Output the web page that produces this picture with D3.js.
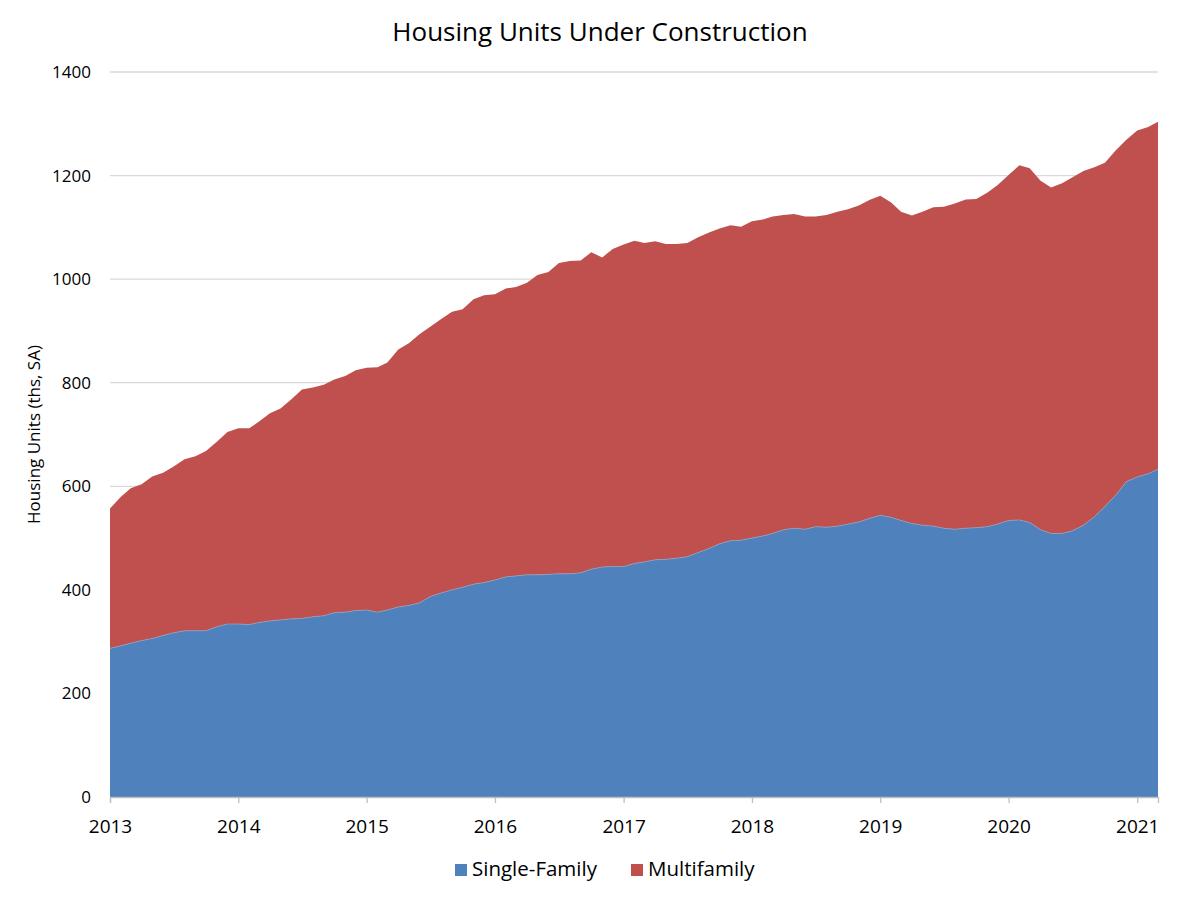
<!DOCTYPE html>
<html>
<head>
<meta charset="utf-8">
<script src="https://cdn.jsdelivr.net/npm/d3@7"></script>
<style>
    body { margin: 0; background: #fff; }
    text { font-family: 'Open Sans', 'Noto Sans', sans-serif; fill: #000; }
</style>
</head>
<body>
<svg id="chart" width="1200" height="900"></svg>
<script>
//----------DATA----------

var startMonth = '2013-01';
var seriesNames = ['Single-Family', 'Multifamily'];
var seriesColors = ['#4f81bd', '#c0504d'];
var yTicks = [0, 200, 400, 600, 800, 1000, 1200, 1400];
var xTickYears = ['2013', '2014', '2015', '2016', '2017', '2018', '2019', '2020', '2021'];

// thousands of units, monthly from Jan 2013 to Mar 2021
var singleFamily = [
    287, 292, 297, 302, 306, 312, 317, 321, 321, 321, 329, 334,
    334, 333, 337, 340, 342, 344, 345, 348, 350, 356, 357, 360,
    361, 357, 361, 367, 370, 375, 387, 394, 400, 405, 411, 414,
    419, 425, 427, 429, 429, 430, 431, 431, 433, 440, 444, 445,
    445, 451, 454, 458, 459, 461, 464, 472, 480, 489, 495, 496,
    500, 504, 509, 516, 519, 517, 522, 521, 523, 527, 531, 538,
    544, 540, 534, 528, 525, 523, 519, 517, 519, 520, 522, 527,
    534, 535, 530, 516, 509, 509, 514, 525, 541, 561, 583, 609,
    618, 624, 633
];

var multifamily = [
    270, 288, 299, 302, 313, 314, 321, 331, 337, 347, 357, 371,
    378, 379, 388, 401, 408, 424, 442, 443, 446, 450, 456, 464,
    468, 473, 478, 497, 506, 519, 521, 529, 537, 537, 550, 555,
    552, 557, 558, 564, 579, 584, 600, 604, 603, 612, 598, 613,
    622, 623, 616, 615, 609, 607, 606, 609, 610, 609, 609, 605,
    612, 611, 612, 608, 607, 604, 599, 603, 607, 608, 611, 615,
    617, 608, 596, 595, 605, 616, 621, 629, 635, 635, 645, 655,
    667, 685, 684, 674, 668, 676, 683, 684, 675, 664, 666, 660,
    669, 670, 671
];

//----------SETUP----------

var margin = {left: 110, right: 42, top: 72, bottom: 103};
var width = 1200, height = 900;

var svg = d3.select('#chart');

var parseMonth = d3.timeParse('%Y-%m');
var firstDate = parseMonth(startMonth);

var rows = singleFamily.map(function(v, i) {
    return {
        date: d3.timeMonth.offset(firstDate, i),
        'Single-Family': v,
        'Multifamily': multifamily[i]
    };
});

var x = d3.scaleTime()
    .domain(d3.extent(rows, function(d) { return d.date; }))
    .range([margin.left, width - margin.right]);

var y = d3.scaleLinear()
    .domain([0, 1400])
    .range([height - margin.bottom, margin.top]);

var stack = d3.stack().keys(seriesNames);
var layers = stack(rows);

//----------GRID----------

svg.append('g')
    .attr('class', 'grid')
    .selectAll('line')
    .data(yTicks.slice(1))
    .enter()
    .append('line')
    .attr('x1', margin.left)
    .attr('x2', width - margin.right)
    .attr('y1', function(d) { return y(d); })
    .attr('y2', function(d) { return y(d); })
    .attr('stroke', '#d9d9d9')
    .attr('stroke-width', 1.3);

//----------AREAS----------

var area = d3.area()
    .x(function(d) { return x(d.data.date); })
    .y0(function(d) { return y(d[0]); })
    .y1(function(d) { return y(d[1]); });

svg.append('g')
    .attr('class', 'areas')
    .selectAll('path')
    .data(layers)
    .enter()
    .append('path')
    .attr('d', area)
    .attr('fill', function(d, i) { return seriesColors[i]; });

// faint edge where the two layers meet
svg.append('path')
    .datum(layers[0])
    .attr('d', d3.line()
        .x(function(d) { return x(d.data.date); })
        .y(function(d) { return y(d[1]); }))
    .attr('fill', 'none')
    .attr('stroke', '#8c9fc0')
    .attr('stroke-width', 0.8);

//----------AXES----------

var xAxis = d3.axisBottom(x)
    .tickValues(xTickYears.map(function(s) { return d3.timeParse('%Y')(s); }))
    .tickFormat(d3.timeFormat('%Y'))
    .tickSize(6)
    .tickPadding(17);

var gx = svg.append('g')
    .attr('transform', 'translate(0,' + y(0) + ')')
    .call(xAxis);
gx.select('.domain').attr('stroke', '#bfbfbf').attr('stroke-width', 1.3);
gx.selectAll('.tick line').attr('stroke', '#bfbfbf').attr('stroke-width', 1.3);
gx.selectAll('.tick text')
    .attr('font-size', 19)
    .attr('font-family', "'Open Sans', sans-serif")
    .attr('fill', '#000');

var yAxis = d3.axisLeft(y)
    .tickValues(yTicks)
    .tickFormat(d3.format('d'))
    .tickSize(0)
    .tickPadding(19);

var gy = svg.append('g')
    .attr('transform', 'translate(' + margin.left + ',0)')
    .call(yAxis);
gy.select('.domain').remove();
gy.selectAll('.tick text')
    .attr('font-size', 17)
    .attr('font-family', "'Open Sans', sans-serif")
    .attr('fill', '#000');

//----------TITLES----------

svg.append('text')
    .attr('x', 600)
    .attr('y', 41)
    .attr('text-anchor', 'middle')
    .attr('font-size', 26)
    .text('Housing Units Under Construction');

svg.append('text')
    .attr('transform', 'translate(40,' + ((margin.top + height - margin.bottom) / 2) + ') rotate(-90)')
    .attr('text-anchor', 'middle')
    .attr('font-size', 17)
    .text('Housing Units (ths, SA)');

//----------LEGEND----------

var legendItems = [
    {name: seriesNames[0], color: seriesColors[0], x: 455},
    {name: seriesNames[1], color: seriesColors[1], x: 631}
];

var legend = svg.append('g')
    .attr('class', 'legend')
    .selectAll('g')
    .data(legendItems)
    .enter()
    .append('g')
    .attr('transform', function(d) { return 'translate(' + d.x + ',864)'; });

legend.append('rect')
    .attr('width', 12)
    .attr('height', 12)
    .attr('fill', function(d) { return d.color; });

legend.append('text')
    .attr('x', 17)
    .attr('y', 12)
    .attr('font-size', 20.5)
    .text(function(d) { return d.name; });
</script>
</body>
</html>
